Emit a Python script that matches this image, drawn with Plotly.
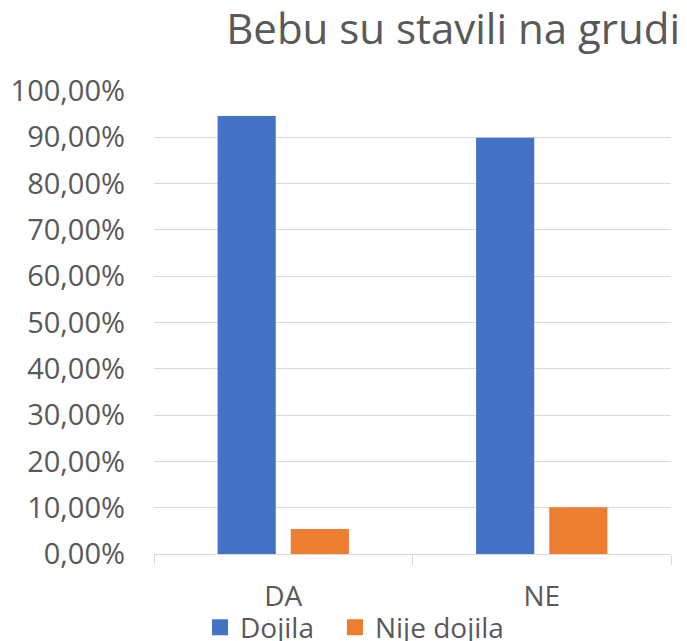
import plotly.graph_objects as go

categories = ["DA", "NE"]
dojila = [0.946, 0.899]
nije_dojila = [0.054, 0.101]
series_names = ["Dojila", "Nije dojila"]
colors = ["#4472C4", "#ED7D31"]
y_ticks = [0, 0.1, 0.2, 0.3, 0.4, 0.5, 0.6, 0.7, 0.8, 0.9, 1.0]

FONT = "Open Sans"
TXT = "#595959"

# the page body adds an 8px offset; the figure is sized to fill the rest of the window
W, H = 679, 633

fig = go.Figure()
for name, vals, col in zip(series_names, [dojila, nije_dojila], colors):
    fig.add_trace(go.Bar(x=categories, y=vals, name=name, marker_color=col,
                         marker_line_width=0, showlegend=False))
# legend entries (square swatches), one legend box per entry for exact placement
legend_ids = ["legend", "legend2"]
legend_x = [0.089, 0.350]
for name, col, lid in zip(series_names, colors, legend_ids):
    fig.add_trace(go.Scatter(x=[None], y=[None], mode="markers", name=name, legend=lid,
                             marker=dict(symbol="square", size=18, color=col)))

legend_common = dict(orientation="h", xanchor="left", y=-0.159, yanchor="middle",
                     font=dict(family=FONT, size=28, color=TXT), itemwidth=30,
                     bgcolor="rgba(0,0,0,0)")

fig.update_layout(
    width=W, height=H,
    margin=dict(l=146, r=16, t=83, b=87, autoexpand=False),
    paper_bgcolor="white", plot_bgcolor="white",
    separators=", ",
    bargap=0.434, bargroupgap=0.205,
    font=dict(family=FONT, color=TXT, size=28),
    title=dict(text="Bebu su stavili na grudi", font=dict(family=FONT, size=42, color=TXT),
               x=672 / W, xanchor="right", xref="container",
               y=1 - 21 / H, yanchor="middle", yref="container"),
    legend=dict(x=legend_x[0], **legend_common),
    legend2=dict(x=legend_x[1], **legend_common),
    xaxis=dict(showline=True, linecolor="#D9D9D9", linewidth=1.3, automargin=False,
               ticks="outside", tickson="boundaries", ticklen=10, tickcolor="#D9D9D9",
               tickwidth=1.3, ticklabelstandoff=17,
               tickfont=dict(family=FONT, size=28, color=TXT), showgrid=False),
    yaxis=dict(range=[0, 1], tickvals=y_ticks, tickformat=".2%", automargin=False,
               showgrid=True, gridcolor="#D9D9D9", gridwidth=1.3,
               zeroline=False, showline=False, ticks="", ticklabelstandoff=28,
               tickfont=dict(family=FONT, size=29, color=TXT)),
)

fig.write_html("out.html")
